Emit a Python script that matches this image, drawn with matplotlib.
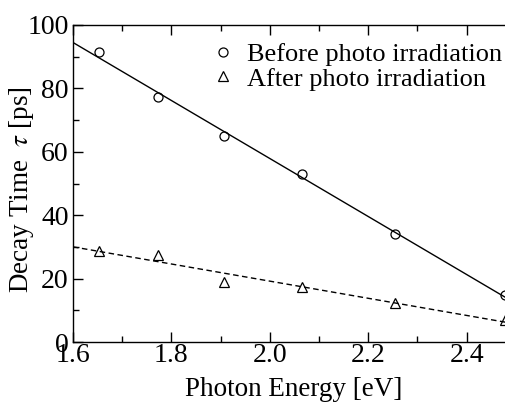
import numpy as np
import matplotlib
matplotlib.use("Agg")
import matplotlib.pyplot as plt
from matplotlib.ticker import MultipleLocator

plt.rcParams['font.family'] = 'Liberation Serif'
plt.rcParams['mathtext.fontset'] = 'stix'

# photon energy [eV] and decay times [ps]
energy = [1.653, 1.772, 1.907, 2.066, 2.254, 2.477]
tau_before = [91.4, 77.3, 65.0, 53.0, 34.1, 14.7]
tau_after = [28.8, 27.4, 18.9, 17.4, 12.3, 6.9]

fig = plt.figure(figsize=(5.05, 4.05), dpi=100)
ax = fig.add_axes([73/505, 63/405, 433/505, 317/405])

# linear fits
xfit = np.array([1.6, 2.48])
p1 = np.polyfit(energy, tau_before, 1)
p2 = np.polyfit(energy, tau_after, 1)
ax.plot(xfit, np.polyval(p1, xfit), 'k-', lw=1.0)
ax.plot(xfit, np.polyval(p2, xfit), 'k--', lw=1.0, dashes=(4, 2.5))

ax.plot(energy, tau_before, 'o', mfc='none', mec='k', ms=6.5, mew=0.9,
        clip_on=False, label='Before photo irradiation')
ax.plot(energy, tau_after, '^', mfc='none', mec='k', ms=6.5, mew=0.9,
        clip_on=False, label='After photo irradiation')

ax.set_xlim(1.6, 2.48)
ax.set_ylim(0, 100)
ax.xaxis.set_major_locator(MultipleLocator(0.2))
ax.xaxis.set_minor_locator(MultipleLocator(0.1))
ax.yaxis.set_major_locator(MultipleLocator(20))
ax.yaxis.set_minor_locator(MultipleLocator(10))
ax.xaxis.set_major_formatter(plt.FormatStrFormatter('%.1f'))
ax.tick_params(which='both', direction='in', top=True, right=False, width=1.0)
ax.tick_params(which='major', length=7, labelsize=20)
ax.tick_params(axis='x', which='major', pad=1)
ax.tick_params(axis='y', which='major', pad=3)
ax.tick_params(which='minor', length=4)
ax.spines['right'].set_visible(False)
for s in ['left', 'top', 'bottom']:
    ax.spines[s].set_linewidth(1.0)

ax.set_xlabel('Photon Energy [eV]', fontsize=19.5)
ax.xaxis.set_label_coords((294 - 73) / 433, (342 - 377) / 317)
ax.set_ylabel(r'Decay Time  $\tau$ [ps]', fontsize=19.5, va='center')
ax.yaxis.set_label_coords((22 - 73) / 433, (342 - 190) / 317)

ax.legend(loc='upper left', bbox_to_anchor=(0.31, 0.945), frameon=False,
          fontsize=19, handlelength=1.2, handletextpad=0.3, labelspacing=0.05,
          borderaxespad=0, borderpad=0)

fig.savefig('out.png', dpi=100)
